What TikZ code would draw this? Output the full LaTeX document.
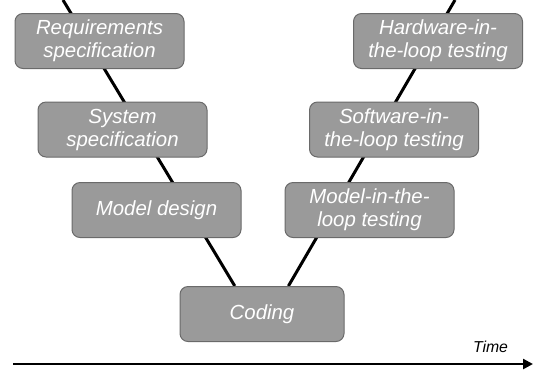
\documentclass[tikz,border=0pt]{standalone}
\usepackage{fontspec}
\setmainfont{Liberation Sans}
\definecolor{clBox}{HTML}{9A9A9A}
\definecolor{clEdge}{HTML}{6A6A6A}
\usetikzlibrary{arrows.meta,calc,backgrounds}

\begin{document}
\begin{tikzpicture}[x=0.5pt,y=-0.5pt,
  every node/.style={font=\fontsize{10.2}{11.5}\selectfont\itshape},
  vbox/.style={draw=clEdge,fill=clBox,text=white,rounded corners=4pt,align=center,
    minimum width=84.5pt,minimum height=27.5pt,inner sep=0pt,line width=0.5pt},
  vline/.style={line width=1.5pt}]
  \useasboundingbox (0,0) rectangle (533,371);
  % left branch: specification and design
  \node[vbox] (req) at (99.5,41) {Requirements\\specification};
  \node[vbox] (sys) at (122.5,129.5) {System\\specification};
  \node[vbox] (mdl) at (156.5,210) {Model design};
  \node[vbox,minimum width=82pt] (code) at (262,314) {Coding};
  % right branch: testing
  \node[vbox] (mil) at (369.5,210) {Model-in-the-\\loop testing};
  \node[vbox] (sil) at (394,129.5) {Software-in-\\the-loop testing};
  \node[vbox] (hil) at (438,41) {Hardware-in-\\the-loop testing};
  \coordinate (topL) at (63,0);
  \coordinate (topR) at (455,0);
  \begin{scope}[on background layer]
    \draw[vline] (topL) -- ($(code.north west)!0.335!(code.north east)$);
    \draw[vline] (topR) -- ($(code.north west)!0.66!(code.north east)$);
  \end{scope}
  % time axis
  \coordinate (t0) at (13,364);
  \coordinate (t1) at (533,364);
  \draw[line width=1.2pt,-{Triangle[length=5pt,width=5pt]}] (t0) -- (t1);
  \node[font=\fontsize{7.9}{9}\selectfont\itshape] (time) at (490.5,347) {Time};
\end{tikzpicture}
\end{document}
